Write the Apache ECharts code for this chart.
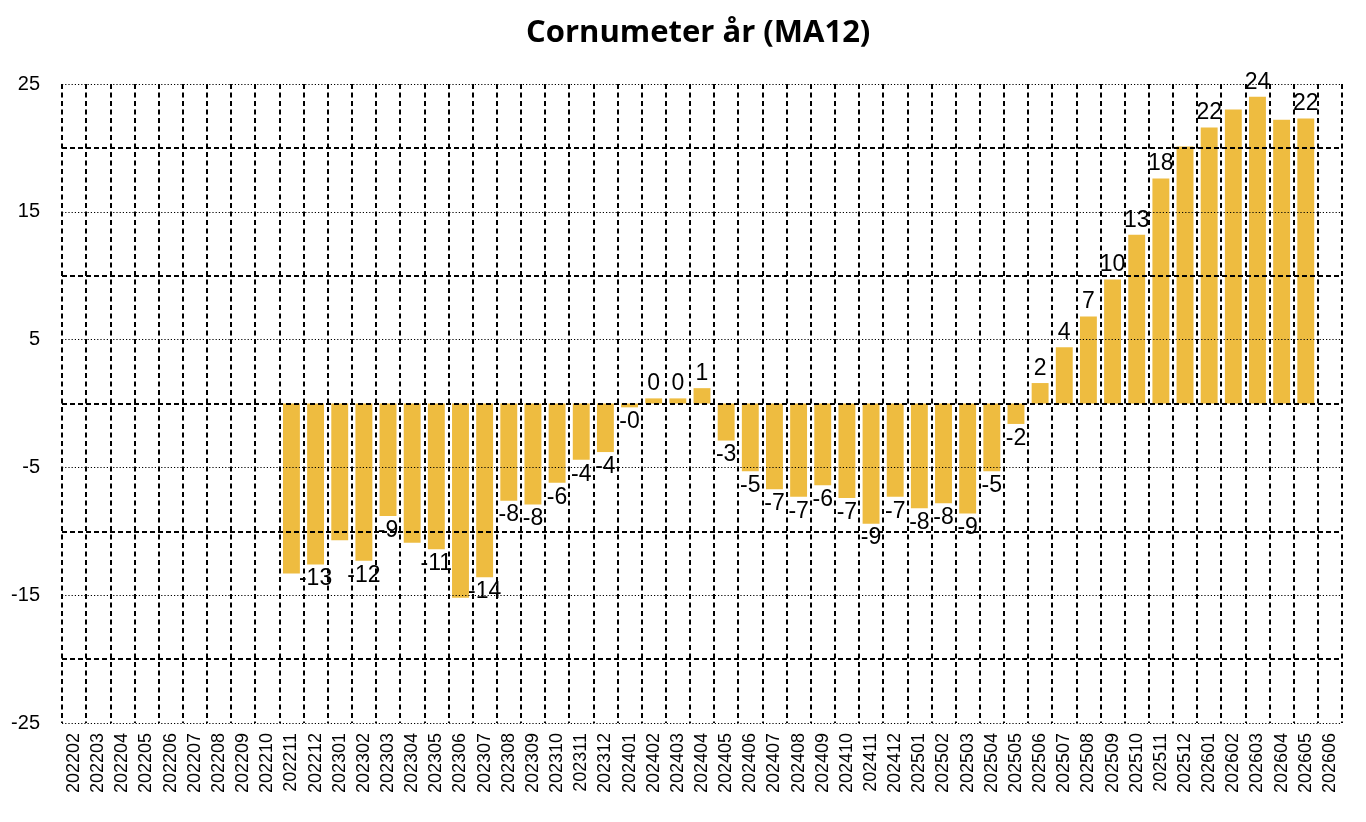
<!DOCTYPE html>
<html>
<head>
<meta charset="utf-8">
<title>Cornumeter år (MA12)</title>
<script src="https://cdn.jsdelivr.net/npm/echarts@6/dist/echarts.min.js"></script>
<style>
  html, body { margin: 0; padding: 0; background: #fff; }
  #chart { width: 1366px; height: 822px; }
</style>
</head>
<body>
<div id="chart"></div>
<script>
// ── Data ──
const months = [
  '202202', '202203', '202204', '202205', '202206', '202207', '202208', '202209', '202210', '202211', '202212',
  '202301', '202302', '202303', '202304', '202305', '202306', '202307', '202308', '202309', '202310', '202311', '202312',
  '202401', '202402', '202403', '202404', '202405', '202406', '202407', '202408', '202409', '202410', '202411', '202412',
  '202501', '202502', '202503', '202504', '202505', '202506', '202507', '202508', '202509', '202510', '202511', '202512',
  '202601', '202602', '202603', '202604', '202605', '202606'
];

const values = [
  null, null, null, null, null, null, null, null, null, -13.3, -12.6,
  -10.7, -12.3, -8.8, -10.9, -11.4, -15.2, -13.6, -7.6, -7.9, -6.2, -4.4, -3.8,
  -0.3, 0.4, 0.4, 1.2, -2.9, -5.3, -6.7, -7.3, -6.4, -7.4, -9.4, -7.3,
  -8.2, -7.8, -8.6, -5.3, -1.6, 1.6, 4.4, 6.8, 9.7, 13.2, 17.6, 20.1,
  21.6, 23.0, 24.0, 22.2, 22.3, null
];

// months whose value label is dropped in the original (overlap)
const hiddenLabels = ['202211', '202301', '202304', '202306', '202512', '202602', '202604'];

// horizontal grid: fine dots at labelled ticks, coarse dashes in between
const dottedRules = [-25, -15, -5, 5, 15, 25];
const dashedRules = [-20, -10, 0, 10, 20];

const BAR_COLOR = '#EEBC40';

const chart = echarts.init(document.getElementById('chart'));

const barData = values.map((v, i) => {
  if (v === null) return null;
  return {
    value: v,
    label: {
      show: !hiddenLabels.includes(months[i]),
      position: v >= 0 ? 'top' : 'bottom',
    },
  };
});

const rules = [
  ...dottedRules.map(y => ({ yAxis: y, lineStyle: { type: [1.2, 2], width: 1.2, color: '#000' } })),
  ...dashedRules.map(y => ({ yAxis: y, lineStyle: { type: [5, 3], width: 2, color: '#000' } })),
];

chart.setOption({
  backgroundColor: '#fff',
  animation: false,
  title: {
    text: 'Cornumeter år (MA12)',
    left: 521,
    top: 13,
    textStyle: { fontFamily: 'Open Sans', fontWeight: 'bold', fontSize: 31, color: '#000' },
  },
  grid: { left: 62, right: 24, top: 84, bottom: 99, containLabel: false },
  xAxis: {
    type: 'category',
    data: months,
    boundaryGap: true,
    axisLine: { show: false },
    axisTick: { show: false },
    axisLabel: {
      rotate: 90,
      margin: 10,
      interval: 0,
      fontFamily: 'Liberation Sans',
      fontSize: 18,
      color: '#000',
    },
    splitLine: {
      show: true,
      interval: 0,
      lineStyle: { type: [5, 3.5], width: 2, color: '#000' },
    },
  },
  yAxis: {
    type: 'value',
    min: -25,
    max: 25,
    interval: 5,
    axisLine: { show: false },
    axisTick: { show: false },
    splitLine: { show: false },
    axisLabel: {
      margin: 22,
      fontFamily: 'Liberation Sans',
      fontSize: 20,
      color: '#000',
      formatter: v => (v % 10 !== 0 ? String(v) : ''),
    },
  },
  series: [
    {
      // grid rules only, kept behind the bars
      type: 'line',
      data: [],
      z: 1,
      silent: true,
      markLine: {
        silent: true,
        symbol: ['none', 'none'],
        label: { show: false },
        data: rules,
      },
    },
    {
      type: 'bar',
      data: barData,
      z: 3,
      barCategoryGap: '30%',
      itemStyle: { color: BAR_COLOR },
      label: {
        distance: 3,
        fontFamily: 'Liberation Sans',
        fontSize: 23,
        color: '#000',
        formatter: p => String(Math.round(p.value) === 0 && p.value < 0 ? '-0' : Math.round(p.value)),
      },
    },
  ],
});
</script>
</body>
</html>
